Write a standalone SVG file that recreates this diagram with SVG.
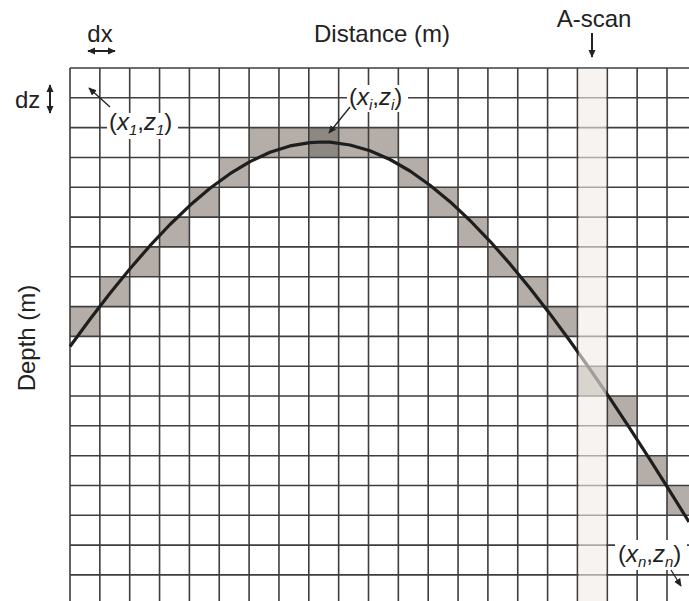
<svg xmlns="http://www.w3.org/2000/svg" width="689" height="601" viewBox="0 0 689 601">
<style>
.cell{fill:#b5aea8}
.dark{fill:#8e8882}
.grid{fill:none;stroke:#3e3e3e;stroke-width:1.6}
.curve{fill:none;stroke:#1e1e1e;stroke-width:3.2;stroke-linejoin:round}
.t{font-family:"Liberation Sans",Arial,sans-serif;font-size:24px;fill:#222}
.it{font-style:italic}
.sub{font-size:15px}
.arr{stroke:#222;stroke-width:2;fill:none}
.thin{stroke:#222;stroke-width:1.3;fill:none}
</style>
<defs>
<marker id="ah" viewBox="0 0 10 10" refX="9" refY="5" markerWidth="8" markerHeight="8" markerUnits="userSpaceOnUse" orient="auto-start-reverse">
<path d="M0,0.5 L10,5 L0,9.5 Z" fill="#222"/>
</marker>
</defs>
<rect width="689" height="601" fill="#fff"/>
<g id="cells">
<rect class="cell" x="249.1" y="127.6" width="59.7" height="29.8"/>
<rect class="dark" x="308.8" y="127.6" width="29.85" height="29.8"/>
<rect class="cell" x="338.65" y="127.6" width="59.7" height="29.8"/>
<rect class="cell" x="219.25" y="157.5" width="29.85" height="29.8"/>
<rect class="cell" x="398.35" y="157.5" width="29.85" height="29.8"/>
<rect class="cell" x="189.4" y="187.3" width="29.85" height="29.8"/>
<rect class="cell" x="428.2" y="187.3" width="29.85" height="29.8"/>
<rect class="cell" x="159.55" y="217.1" width="29.85" height="29.8"/>
<rect class="cell" x="458.05" y="217.1" width="29.85" height="29.8"/>
<rect class="cell" x="129.7" y="246.9" width="29.85" height="29.8"/>
<rect class="cell" x="487.9" y="246.9" width="29.85" height="29.8"/>
<rect class="cell" x="99.85" y="276.7" width="29.85" height="29.8"/>
<rect class="cell" x="517.75" y="276.7" width="29.85" height="29.8"/>
<rect class="cell" x="70" y="306.6" width="29.85" height="29.8"/>
<rect class="cell" x="547.6" y="306.6" width="29.85" height="29.8"/>
<rect class="cell" x="577.45" y="366.2" width="29.85" height="29.8"/>
<rect class="cell" x="607.3" y="396" width="29.85" height="29.8"/>
<rect class="cell" x="637.15" y="455.7" width="29.85" height="29.8"/>
<rect class="cell" x="667" y="485.5" width="22" height="29.8"/>
</g>
<g id="grid">
<path class="grid" d="M70,68V601 M99.85,68V601 M129.7,68V601 M159.55,68V601 M189.4,68V601 M219.25,68V601 M249.1,68V601 M278.95,68V601 M308.8,68V601 M338.65,68V601 M368.5,68V601 M398.35,68V601 M428.2,68V601 M458.05,68V601 M487.9,68V601 M517.75,68V601 M547.6,68V601 M577.45,68V601 M607.3,68V601 M637.15,68V601 M667,68V601
M70,68H689 M70,97.8H689 M70,127.6H689 M70,157.5H689 M70,187.3H689 M70,217.1H689 M70,246.9H689 M70,276.7H689 M70,306.6H689 M70,336.4H689 M70,366.2H689 M70,396H689 M70,425.8H689 M70,455.7H689 M70,485.5H689 M70,515.3H689 M70,545.1H689 M70,574.9H689"/>
</g>
<g id="connectors">
<polyline class="curve" points="70,346.5 90,319.2 110,293.2 130,268.7 150,245.7 170,224.5 190,205.3 210,188.3 230,173.7 250,161.6 270,152.3 290,145.9 310,142.6 322,142 330,142.2 350,145 370,150.8 390,159.5 410,171 430,185.2 450,201.7 470,220.5 490,241.3 510,263.9 530,288.2 550,313.9 570,341 590,369.2 610,398.4 630,428.6 650,459.6 670,491.3 689,522"/>
</g>
<g id="ascan">
<rect x="578.6" y="68.8" width="27.6" height="532.2" fill="#f1ece6" opacity="0.62"/>
</g>
<g id="label-bg">
<rect x="107" y="113" width="71" height="26" fill="#fff"/>
<rect x="347" y="85" width="61" height="27" fill="#fff"/>
<rect x="615" y="540" width="72" height="30" fill="#fff"/>
</g>
<g id="arrows">
<line class="arr" x1="88" y1="51" x2="115" y2="51" marker-start="url(#ah)" marker-end="url(#ah)"/>
<line class="arr" x1="50" y1="85" x2="50" y2="113" marker-start="url(#ah)" marker-end="url(#ah)"/>
<line class="arr" x1="592" y1="33" x2="592" y2="57" marker-end="url(#ah)"/>
<line class="thin" x1="110" y1="107" x2="89" y2="88" marker-end="url(#ah)"/>
<line class="thin" x1="350" y1="107" x2="329" y2="133" marker-end="url(#ah)"/>
<line class="thin" x1="671" y1="570" x2="681" y2="586" marker-end="url(#ah)"/>
</g>
<g id="labels">
<text class="t" x="100" y="42" text-anchor="middle">dx</text>
<text class="t" x="15" y="108">dz</text>
<text class="t" x="382" y="42" text-anchor="middle">Distance (m)</text>
<text class="t" x="594" y="27" text-anchor="middle">A-scan</text>
<text class="t" transform="translate(35,338) rotate(-90)" text-anchor="middle">Depth (m)</text>
<text class="t" x="109" y="130">(<tspan class="it">x</tspan><tspan class="it sub" dy="5">1</tspan><tspan dy="-5">,</tspan><tspan class="it">z</tspan><tspan class="it sub" dy="5">1</tspan><tspan dy="-5">)</tspan></text>
<text class="t" x="349" y="105">(<tspan class="it">x</tspan><tspan class="it sub" dy="5">i</tspan><tspan dy="-5">,</tspan><tspan class="it">z</tspan><tspan class="it sub" dy="5">i</tspan><tspan dy="-5">)</tspan></text>
<text class="t" x="618" y="562">(<tspan class="it">x</tspan><tspan class="it sub" dy="5">n</tspan><tspan dy="-5">,</tspan><tspan class="it">z</tspan><tspan class="it sub" dy="5">n</tspan><tspan dy="-5">)</tspan></text>
</g>
</svg>
